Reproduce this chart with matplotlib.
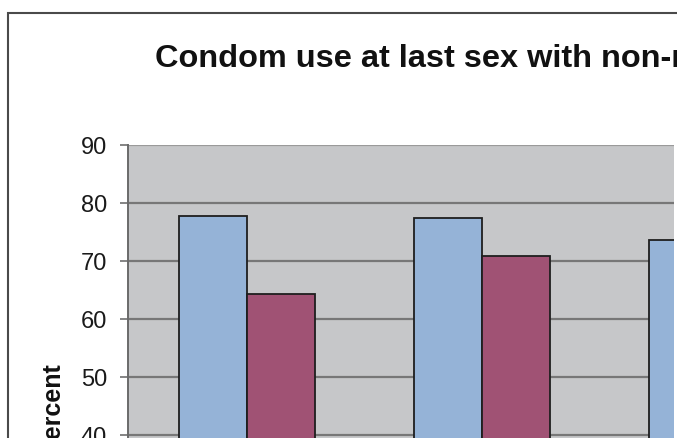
import numpy as np
import matplotlib.pyplot as plt
from matplotlib.patches import Rectangle

# Condom use at last sex, two series per group
groups = ['Group 1', 'Group 2', 'Group 3']
series_a = [77.8, 77.5, 73.6]
series_b = [64.3, 70.9, 66.0]
yticks = [40, 50, 60, 70, 80, 90]

plt.rcParams['font.family'] = ['Liberation Sans', 'DejaVu Sans']

W, H = 677, 438
fig = plt.figure(figsize=(W / 100, H / 100), dpi=100)

# plot area: 0 at y=667px, 90 at y=145px, left edge at x=128px
ax_left, ax_right = 128, 674
y_top, y_zero = 145, 667
ax = fig.add_axes([ax_left / W, (H - y_zero) / H,
                   (ax_right - ax_left) / W, (y_zero - y_top) / H])
ax.set_facecolor('#c6c7c9')

x = np.arange(len(groups))
bw = 0.29
ax.bar(x - bw / 2, series_a, bw, color='#95b3d7', edgecolor='#1e1e1e',
       linewidth=1.3, zorder=3)
ax.bar(x + bw / 2, series_b, bw, color='#a05274', edgecolor='#1e1e1e',
       linewidth=1.3, zorder=3)

ax.set_ylim(0, 90)
ax.set_xlim(-0.507, (ax_right - ax_left) / 235 - 0.507)
ax.set_yticks(yticks)
ax.set_xticks([])
ax.tick_params(axis='y', direction='out', length=6, width=1.2,
               color='#707070', labelsize=17, pad=9, labelcolor='#1a1a1a')

for v in range(10, 90, 10):
    ax.axhline(v, color='#777777', linewidth=1.6, zorder=1)
ax.axhline(90, color='#9a9a9a', linewidth=1.6, zorder=1)

for side in ['top', 'right', 'bottom']:
    ax.spines[side].set_visible(False)
ax.spines['left'].set_color('#6a6a6a')
ax.spines['left'].set_linewidth(1.4)

fig.text(52 / W, (H - 408) / H, 'Percent', fontsize=18, fontweight='bold',
         rotation=90, ha='center', va='center', color='#111111')

fig.text(155 / W, (H - 67) / H, 'Condom use at last sex with non-regular partners',
         fontsize=23.4, fontweight='bold', ha='left', va='baseline',
         color='#111111')

# chart frame
fig.patches.append(Rectangle((8 / W, -1), 2, 1 + (H - 13) / H,
                             transform=fig.transFigure, fill=False,
                             edgecolor='#4a4a4a', linewidth=1.5))

fig.savefig('out.png', dpi=100, facecolor='white')
